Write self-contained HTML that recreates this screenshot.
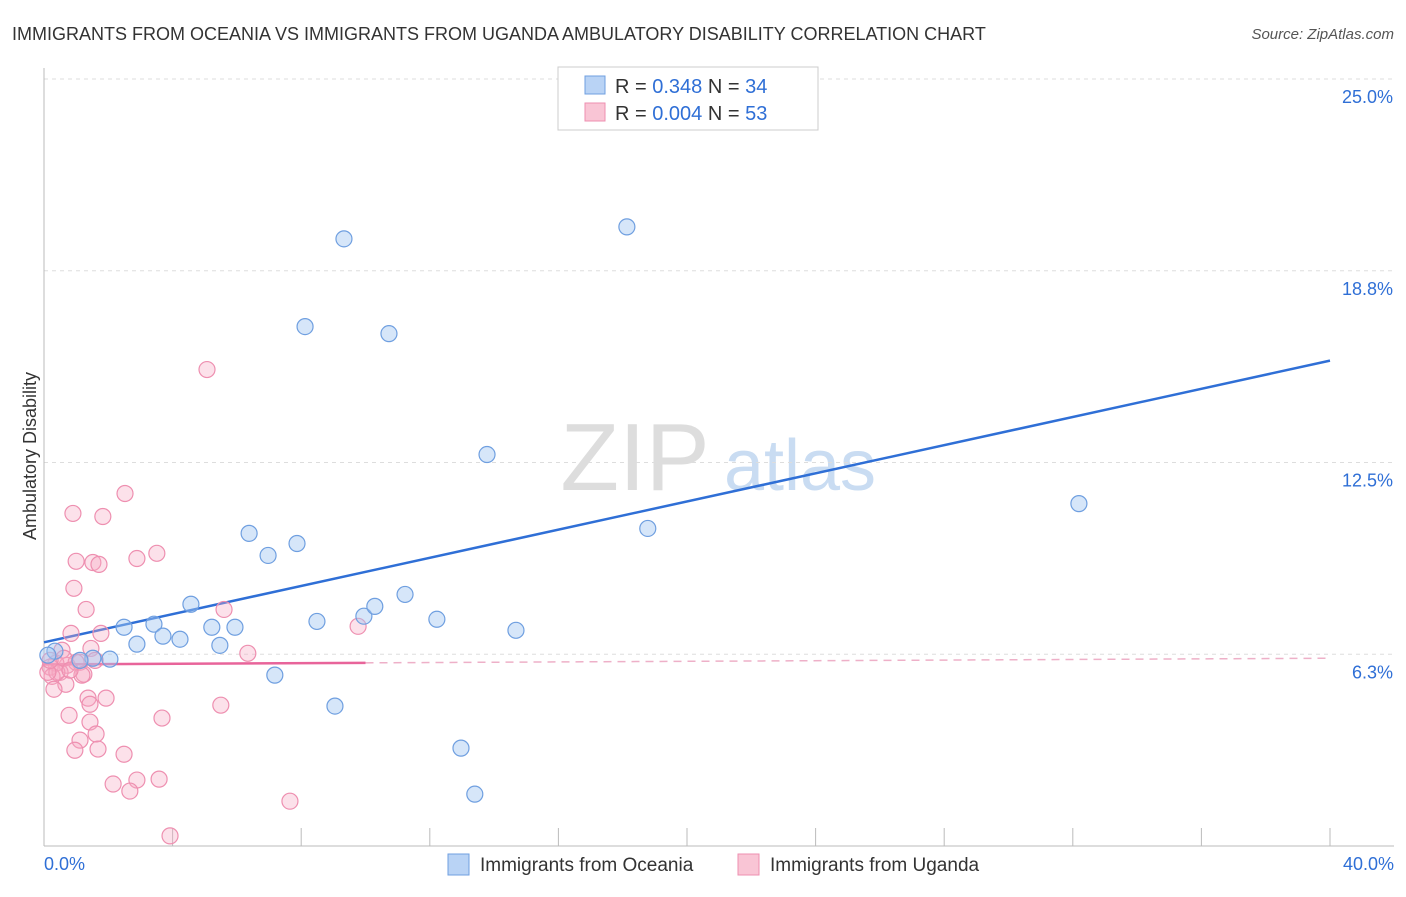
<!DOCTYPE html>
<html><head><meta charset="utf-8"><style>
body{margin:0;background:#fff;font-family:"Liberation Sans",sans-serif}
svg text{font-family:"Liberation Sans",sans-serif}
</style></head><body>
<svg width="1406" height="892" id="chart">
<text x="12" y="40" font-size="18" fill="#333">IMMIGRANTS FROM OCEANIA VS IMMIGRANTS FROM UGANDA AMBULATORY DISABILITY CORRELATION CHART</text>
<text x="1394" y="39" font-size="15" fill="#555" text-anchor="end" font-style="italic">Source: ZipAtlas.com</text>
<text x="36" y="456" font-size="18" fill="#333" text-anchor="middle" transform="rotate(-90 36 456)">Ambulatory Disability</text>
<g><text x="635" y="490" font-size="96" fill="#ddd" font-family="Liberation Serif" text-anchor="middle">ZIP</text><text x="800" y="490" font-size="72" fill="#c9dcf2" text-anchor="middle">atlas</text></g>
<g id="grid"></g><g id="axes"></g><g id="trend"></g><g id="pts"></g>
<g>
<rect x="558" y="67" width="260" height="63" fill="#fff" stroke="#ccc"/>
<rect x="585" y="76" width="20" height="18" fill="#b9d3f5" stroke="#6f9fe0"/>
<text x="615" y="93" font-size="20" fill="#333">R = <tspan fill="#2f6fd6">0.348</tspan>   N = <tspan fill="#2f6fd6">34</tspan></text>
<rect x="585" y="103" width="20" height="18" fill="#f9c5d5" stroke="#ee8fb0"/>
<text x="615" y="120" font-size="20" fill="#333">R = <tspan fill="#2f6fd6">0.004</tspan>   N = <tspan fill="#2f6fd6">53</tspan></text>
</g>
<g>
<rect x="448" y="854" width="21" height="21" fill="#b9d3f5" stroke="#6f9fe0"/>
<text x="480" y="871" font-size="19" fill="#333">Immigrants from Oceania</text>
<rect x="738" y="854" width="21" height="21" fill="#f9c5d5" stroke="#ee8fb0"/>
<text x="770" y="871" font-size="19" fill="#333">Immigrants from Uganda</text>
</g>
</svg>
<script>
const yTicks=[6.25,12.5,18.75,25];
const yTickLabels=["6.3%","12.5%","18.8%","25.0%"];
const xTickLabels=["0.0%","40.0%"];
const blueX=[9.33,18.13,8.12,10.73,13.78,32.19,18.78,6.38,6.97,7.87,4.57,2.49,3.42,3.70,4.23,2.89,5.22,5.94,5.47,8.49,9.95,10.29,11.23,12.22,14.68,2.05,1.52,0.34,0.12,7.18,9.05,12.97,13.40,1.12];
const blueY=[19.79,20.18,16.93,16.70,12.76,11.16,10.35,10.19,9.47,9.86,7.88,7.13,7.23,6.84,6.74,6.58,7.13,7.13,6.54,7.32,7.49,7.81,8.20,7.39,7.03,6.09,6.12,6.35,6.22,5.57,4.56,3.19,1.69,6.05];
const pinkX=[5.07,2.52,0.90,1.83,3.51,1.00,1.52,1.71,2.89,0.93,1.31,5.60,9.77,0.84,1.77,1.46,6.34,0.56,1.12,0.72,0.37,0.19,0.50,1.00,1.24,0.25,0.68,0.31,1.37,1.93,1.43,5.50,0.78,3.67,1.43,1.12,1.62,0.96,1.68,2.49,2.15,2.89,3.58,2.67,7.65,3.92,0.40,0.12,0.62,1.18,1.59,0.19,0.81];
const pinkY=[15.53,11.49,10.84,10.74,9.54,9.28,9.24,9.18,9.37,8.40,7.71,7.71,7.16,6.93,6.93,6.44,6.28,6.38,5.99,5.89,5.96,5.83,5.66,5.99,5.60,5.53,5.27,5.11,4.82,4.82,4.62,4.59,4.26,4.17,4.04,3.45,3.65,3.12,3.16,2.99,2.02,2.15,2.18,1.79,1.46,0.33,5.66,5.66,6.12,5.57,6.05,6.05,5.73];
const blueTrend=[6.64,15.82];
const pinkTrend=[5.92,6.12];
const X0=44,X1=1330,Y0=846,YTOP=79;
const sx=v=>X0+v/40*(X1-X0);
const sy=v=>Y0-v/25*(Y0-YTOP);
const NS="http://www.w3.org/2000/svg";
function mk(t,a,p){const e=document.createElementNS(NS,t);for(const k in a)e.setAttribute(k,a[k]);p.appendChild(e);return e;}
const grid=document.getElementById('grid'),axes=document.getElementById('axes'),trend=document.getElementById('trend'),pts=document.getElementById('pts');
yTicks.forEach((t,i)=>{
 const l=mk('line',{x1:X0,x2:1394,y1:sy(t),y2:sy(t),stroke:'#ddd','stroke-dasharray':'4,4'},grid);
 
 
 const tx=mk('text',{x:1393,y:sy(t)+24,'font-size':18,fill:'#2f6fd6','text-anchor':'end'},axes);
 tx.textContent=yTickLabels[i];
 
 
});
const ax=mk('line',{x1:X0,x2:X0,y1:68,y2:Y0,stroke:'#bbb'},axes);


const bx=mk('line',{x1:X0,x2:1394,y1:Y0,y2:Y0,stroke:'#bbb'},axes);


for(let i=0;i<=10;i++){const tk=mk('line',{x1:sx(i*4),x2:sx(i*4),y1:Y0-18,y2:Y0,stroke:'#bbb'},axes);
 
 }
[[0,'start',44],[40,'end',1394]].forEach((d,i)=>{const t=mk('text',{x:d[2],y:870,'font-size':18,fill:'#2f6fd6','text-anchor':d[1]},axes);t.textContent=xTickLabels[i];
 
 });
const bt=mk('line',{x1:sx(0),y1:sy(blueTrend[0]),x2:sx(40),y2:sy(blueTrend[1]),stroke:'#2f6fd6','stroke-width':2.5},trend);


const pm=pinkTrend[0]+(pinkTrend[1]-pinkTrend[0])*10/40;
const pt=mk('line',{x1:sx(0),y1:sy(pinkTrend[0]),x2:sx(10),y2:sy(pm),stroke:'#e8649a','stroke-width':2.5},trend);


const pd=mk('line',{x1:sx(10),y1:sy(pm),x2:sx(40),y2:sy(pinkTrend[1]),stroke:'#eeb0c8','stroke-width':1.5,'stroke-dasharray':'8,6'},trend);


pinkX.forEach((v,i)=>{const c=mk('circle',{cx:sx(v),cy:sy(pinkY[i]),r:8,fill:'rgba(246,170,196,0.35)',stroke:'#ee8fb0','stroke-width':1.2},pts);
 
 });
blueX.forEach((v,i)=>{const c=mk('circle',{cx:sx(v),cy:sy(blueY[i]),r:8,fill:'rgba(165,200,242,0.45)',stroke:'#6f9fe0','stroke-width':1.2},pts);
 
 });
</script>
</body></html>
